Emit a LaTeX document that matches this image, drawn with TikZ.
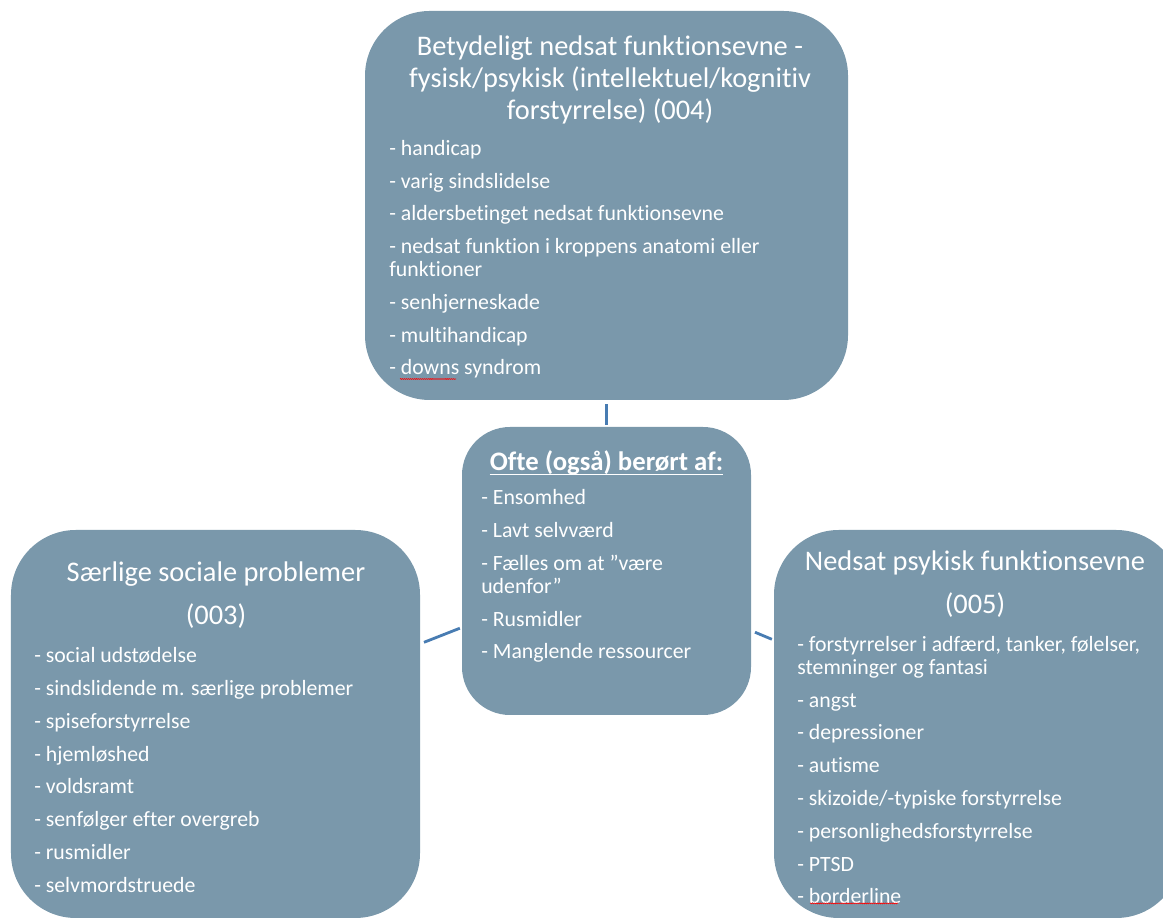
\documentclass[tikz,border=0pt]{standalone}
\usepackage{fontspec}
\setmainfont{Carlito}[Ligatures = NoCommon]
\usetikzlibrary{positioning}
\usetikzlibrary{decorations.pathmorphing}

\definecolor{boxblue}{RGB}{122, 152, 171}
\definecolor{lineblue}{RGB}{72, 124, 178}

\tikzset{field/.style = {fill = boxblue, rounded corners = 1.62cm, inner sep = 0}}
\tikzset{heading/.style = {text = white, align = center, inner sep = 0,
                           font = \fontsize{20.2}{22.6}\selectfont}}
\tikzset{items/.style = {text = white, align = left, inner sep = 0, anchor = north west,
                         font = \fontsize{15.5}{16.4}\selectfont}}
\tikzset{link/.style = {draw = lineblue, line width = 2pt,
                        shorten < = 0.1cm, shorten > = 0.05cm}}
\tikzset{spellmark/.style = {red, line width = 0.4pt,
                             decorate, decoration = {snake, amplitude = 0.35pt, segment length = 1.4pt}}}

\begin{document}
\begin{tikzpicture}
    \useasboundingbox (0, 0) rectangle (29.075, 22.925);

    \node [field, minimum width = 12.075cm, minimum height = 9.725cm] (top) at (15.1625, 17.7875) {};
    \node [field, minimum width = 7.225cm, minimum height = 7.2cm, rounded corners = 1.2cm] (mid) at (15.1625, 8.65) {};
    \node [field, minimum width = 10.225cm, minimum height = 9.7cm] (left) at (5.3875, 4.825) {};
    \node [field, minimum width = 10.175cm, minimum height = 9.7cm] (right) at (24.4375, 4.825) {};

    \draw [link] (top) -- (mid);
    \draw [link] (left) -- (mid);
    \draw [link] (mid) -- (right);

    \node [heading] (toptitle) at (15.25, 20.92) {Betydeligt nedsat funktionsevne -\\ fysisk/psykisk (intellektuel/kognitiv\\ forstyrrelse) (004)};
    \node [items] (toplist) at (9.725, 19.425) {- handicap\\[6.9pt] - varig sindslidelse\\[6.9pt] - aldersbetinget nedsat funktionsevne\\[6.9pt] - nedsat funktion i kroppens anatomi eller\\ funktioner\\[6.9pt] - senhjerneskade\\[6.9pt] - multihandicap\\[6.9pt] - downs syndrom};

    \node [heading, font = \fontsize{19}{22}\selectfont\bfseries] (midtitle) at (15.1625, 11.35) {Ofte (også) berørt af:};
    \draw [white, line width = 1.2pt] ([yshift = -2.8pt] midtitle.base west) -- ([yshift = -2.8pt] midtitle.base east);
    \node [items] (midlist) at (12.025, 10.69) {- Ensomhed\\[6.9pt] - Lavt selvværd\\[6.9pt] - Fælles om at ”være\\ udenfor”\\[6.9pt] - Rusmidler\\[6.9pt] - Manglende ressourcer};

    \node [heading] (lefttitle) at (5.4, 8.04) {Særlige sociale problemer\\[8pt] (003)};
    \node [items] (leftlist) at (0.85, 6.74) {- social udstødelse\\[6.9pt] - sindslidende m. særlige problemer\\[6.9pt] - spiseforstyrrelse\\[6.9pt] - hjemløshed\\[6.9pt] - voldsramt\\[6.9pt] - senfølger efter overgreb\\[6.9pt] - rusmidler\\[6.9pt] - selvmordstruede};

    \node [heading] (righttitle) at (24.375, 8.31) {Nedsat psykisk funktionsevne\\[8pt] (005)};
    \node [items] (rightlist) at (19.925, 7.025) {- forstyrrelser i adfærd, tanker, følelser,\\ stemninger og fantasi\\[6.9pt] - angst\\[6.9pt] - depressioner\\[6.9pt] - autisme\\[6.9pt] - skizoide/-typiske forstyrrelse\\[6.9pt] - personlighedsforstyrrelse\\[6.9pt] - PTSD\\[6.9pt] - borderline};

    % spell-check marks
    \draw [spellmark] (10.0, 13.45) -- (11.4, 13.45);
    \draw [spellmark] (20.25, 0.34) -- (22.45, 0.34);
\end{tikzpicture}
\end{document}
